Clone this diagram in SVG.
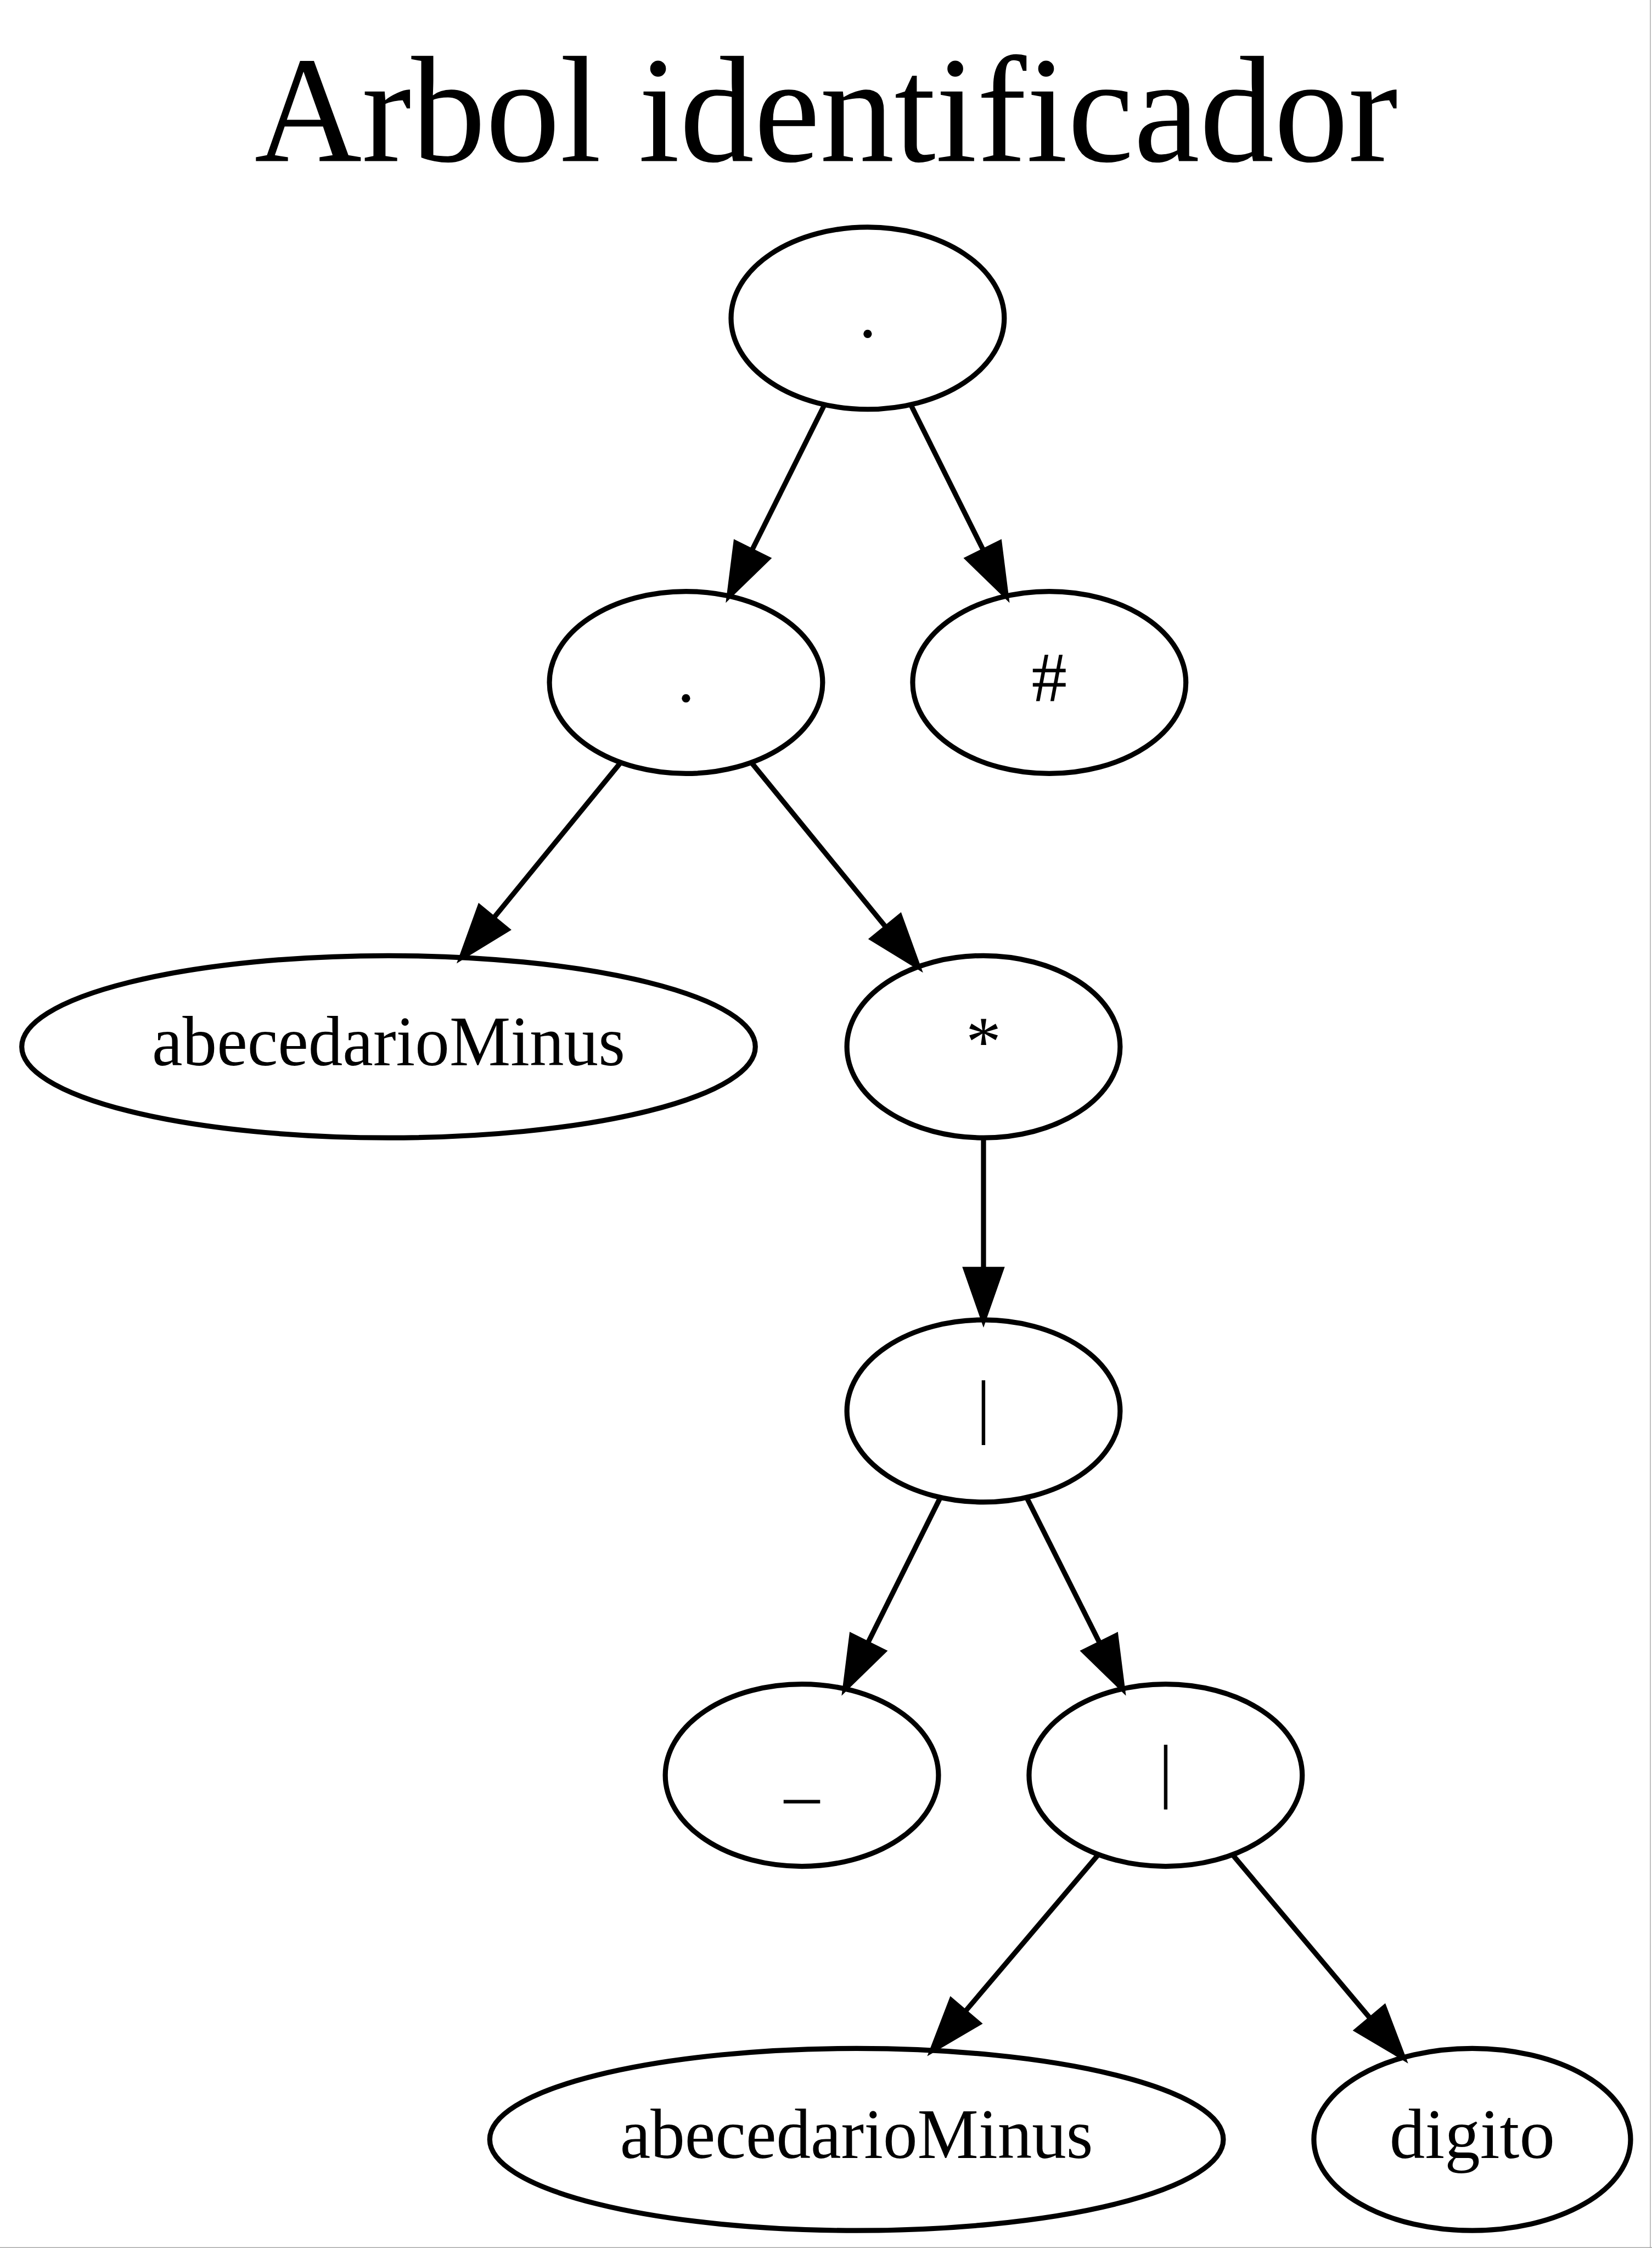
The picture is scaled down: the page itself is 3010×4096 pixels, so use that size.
<svg xmlns="http://www.w3.org/2000/svg" width="3010" height="4096" viewBox="0 0 3010 4096">
<style>
.node ellipse{fill:none;stroke:#000;stroke-width:1}
.lbl{font-family:"Liberation Serif","Times New Roman",serif;font-size:14px;text-anchor:middle;fill:#000}
.title{font-family:"Liberation Serif","Times New Roman",serif;font-size:30px;text-anchor:middle;fill:#000}
.edge line{stroke:#000;stroke-width:1;fill:none}
.edge polygon{fill:#000;stroke:#000;stroke-width:1}
.frame{stroke:#a8a8a8;stroke-width:1.5;fill:none}
</style>
<rect x="0" y="0" width="3010" height="4096" fill="#fff"/>
<line class="frame" x1="3007" y1="0" x2="3007" y2="4096"/>
<line class="frame" x1="0" y1="4095.2" x2="3010" y2="4095.2"/>
<g transform="scale(9.218)">
  <text id="title" class="title" x="163.3" y="31.85" textLength="226" lengthAdjust="spacingAndGlyphs">Arbol identificador</text>

  <g id="edges">
    <g class="edge" id="e_root_dot2">
      <line x1="162.98" y1="79.98" x2="148.58" y2="108.87"/>
      <polygon points="144.12,117.82 151.71,110.43 145.45,107.31"/>
    </g>
    <g class="edge" id="e_root_hash">
      <line x1="180.02" y1="79.98" x2="194.42" y2="108.87"/>
      <polygon points="198.88,117.82 197.55,107.31 191.29,110.43"/>
    </g>
    <g class="edge" id="e_dot2_abc1">
      <line x1="122.69" y1="150.71" x2="97.53" y2="181.51"/>
      <polygon points="91.21,189.26 100.24,183.73 94.82,179.30"/>
    </g>
    <g class="edge" id="e_dot2_star">
      <line x1="148.51" y1="150.71" x2="175.17" y2="183.35"/>
      <polygon points="181.49,191.09 177.88,181.13 172.46,185.56"/>
    </g>
    <g class="edge" id="e_star_or1">
      <line x1="194.4" y1="224.9" x2="194.4" y2="250.9"/>
      <polygon points="194.4,260.9 197.9,250.9 190.9,250.9"/>
    </g>
    <g class="edge" id="e_or1_under">
      <line x1="185.88" y1="295.98" x2="171.48" y2="324.87"/>
      <polygon points="167.02,333.82 174.61,326.43 168.35,323.31"/>
    </g>
    <g class="edge" id="e_or1_or2">
      <line x1="202.92" y1="295.98" x2="217.42" y2="324.87"/>
      <polygon points="221.88,333.82 220.55,323.31 214.29,326.43"/>
    </g>
    <g class="edge" id="e_or2_abc2">
      <line x1="217.11" y1="366.57" x2="190.72" y2="397.66"/>
      <polygon points="184.25,405.29 193.39,399.93 188.05,395.40"/>
    </g>
    <g class="edge" id="e_or2_digito">
      <line x1="243.61" y1="366.60" x2="270.92" y2="399.05"/>
      <polygon points="277.36,406.70 273.60,396.80 268.24,401.30"/>
    </g>
  </g>

  <g id="n_root" class="node">
    <ellipse cx="171.5" cy="62.9" rx="27" ry="18"/>
    <text class="lbl" x="171.5" y="66.6">.</text>
  </g>
  <g id="n_dot2" class="node">
    <ellipse cx="135.6" cy="134.9" rx="27" ry="18"/>
    <text class="lbl" x="135.6" y="138.6">.</text>
  </g>
  <g id="n_hash" class="node">
    <ellipse cx="207.4" cy="134.9" rx="27" ry="18"/>
    <text class="lbl" x="207.4" y="138.6">#</text>
  </g>
  <g id="n_abc1" class="node">
    <ellipse cx="76.8" cy="206.9" rx="72.5" ry="18"/>
    <text class="lbl" x="76.8" y="210.6" textLength="93.5" lengthAdjust="spacingAndGlyphs">abecedarioMinus</text>
  </g>
  <g id="n_star" class="node">
    <ellipse cx="194.4" cy="206.9" rx="27" ry="18"/>
    <text class="lbl" x="194.4" y="210.6">*</text>
  </g>
  <g id="n_or1" class="node">
    <ellipse cx="194.4" cy="278.9" rx="27" ry="18"/>
    <text class="lbl" x="194.4" y="282.6">|</text>
  </g>
  <g id="n_under" class="node">
    <ellipse cx="158.5" cy="350.9" rx="27" ry="18"/>
    <text class="lbl" x="158.5" y="354.6">_</text>
  </g>
  <g id="n_or2" class="node">
    <ellipse cx="230.4" cy="350.9" rx="27" ry="18"/>
    <text class="lbl" x="230.4" y="354.6">|</text>
  </g>
  <g id="n_abc2" class="node">
    <ellipse cx="169.3" cy="422.9" rx="72.5" ry="18"/>
    <text class="lbl" x="169.3" y="426.6" textLength="93.5" lengthAdjust="spacingAndGlyphs">abecedarioMinus</text>
  </g>
  <g id="n_digito" class="node">
    <ellipse cx="291.0" cy="422.9" rx="31.3" ry="18"/>
    <text class="lbl" x="291.0" y="426.6">digito</text>
  </g>
</g>
</svg>
